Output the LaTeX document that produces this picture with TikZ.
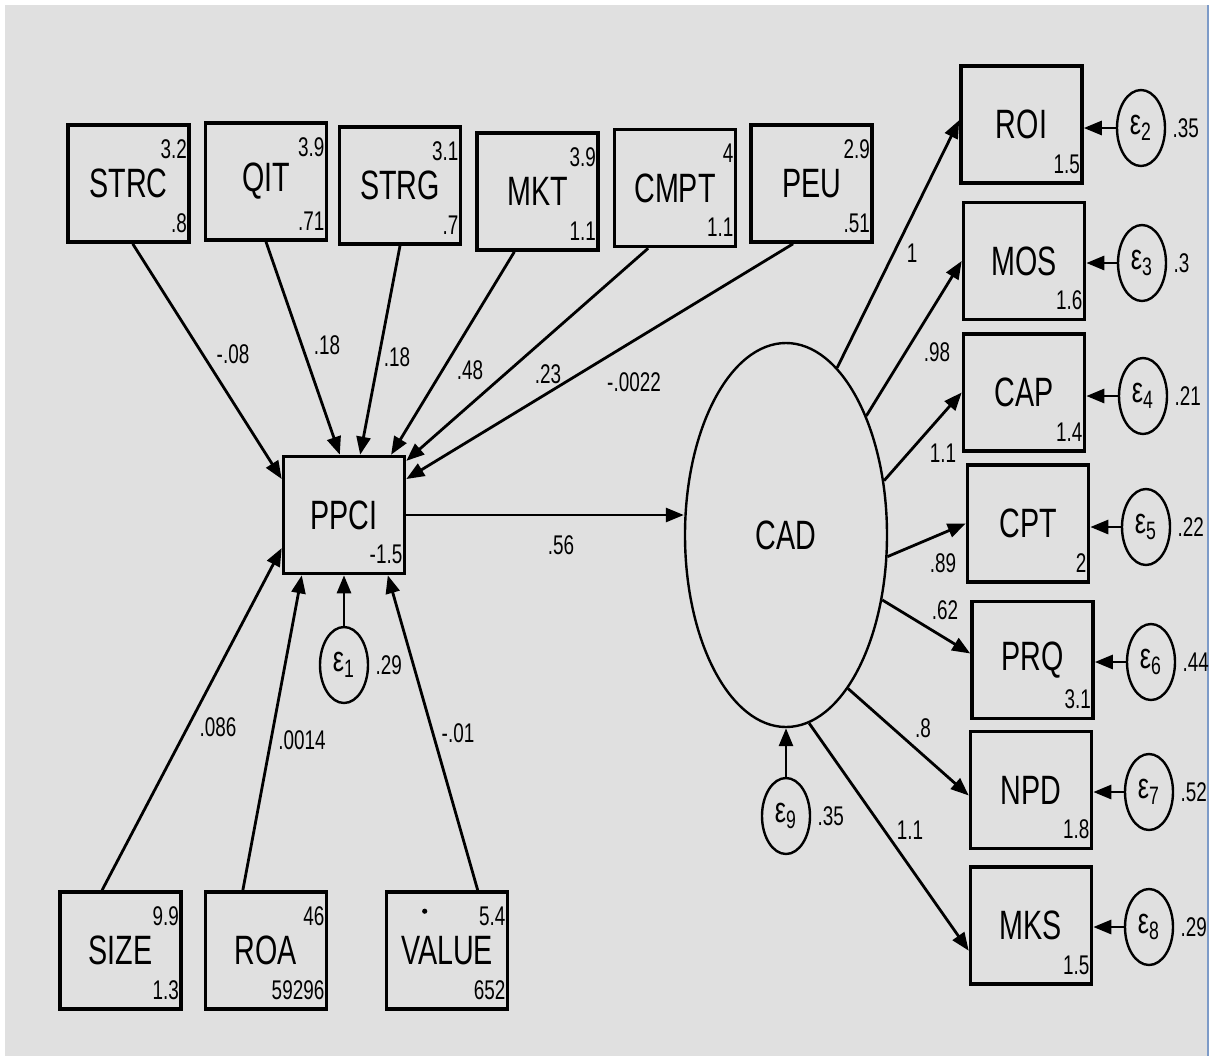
\documentclass[tikz,border=0pt]{standalone}
\usepackage{fontspec}
\setmainfont{Liberation Sans}[FakeStretch=0.7]
\usetikzlibrary{arrows.meta,positioning,shapes.geometric}

\definecolor{bggray}{RGB}{224,224,224}
\definecolor{edgeblue}{RGB}{125,155,200}

\begin{document}
\begin{tikzpicture}[x=0.5pt,y=-0.5pt,>={Triangle[length=9pt,width=7pt]},
  obs/.style={draw,line width=1.8pt,minimum width=60.5pt,minimum height=58.5pt,
    font=\fontsize{20.5}{23}\selectfont},
  lat/.style={draw,ellipse,line width=1.2pt,minimum width=101pt,minimum height=192pt,
    inner sep=0pt,font=\fontsize{20.5}{23}\selectfont},
  err/.style={draw,ellipse,line width=1.2pt,minimum width=24pt,minimum height=38pt,
    inner sep=0pt,font=\fontsize{18}{20}\selectfont},
  num/.style={font=\fontsize{13.5}{15}\selectfont,inner sep=0pt},
  hi/.style={label={[num,anchor=north east,xshift=-1.8pt,yshift=-8pt]north east:#1}},
  lo/.style={label={[num,anchor=south east,xshift=-1.8pt,yshift=5.5pt]south east:#1}},
  link/.style={line width=1.4pt,->}]
\useasboundingbox (0,0) rectangle (1211,1056);
% background
\fill[white] (0,0) rectangle (1211,1056);
\fill[bggray] (5,5) rectangle (1207,1056);
\draw[edgeblue,line width=1pt] (1208,5) -- (1208,1056);

% exogenous boxes
\node[obs,hi=3.2,lo=.8]   (strc) at (128.5,183.5) {STRC};
\node[obs,hi=3.9,lo=.71]  (qit)  at (266,181.5) {QIT};
\node[obs,hi=3.1,lo=.7]   (strg) at (400,185.5) {STRG};
\node[obs,hi=3.9,lo=1.1]  (mkt)  at (537.5,191.5) {MKT};
\node[obs,hi=4,lo=1.1]    (cmpt) at (675,188) {CMPT};
\node[obs,hi=2.9,lo=.51]  (peu)  at (811.5,183.5) {PEU};
\node[obs,lo=-1.5]        (ppci) at (344,515) {PPCI};
\node[obs,hi=9.9,lo=1.3]  (size) at (120.5,950.5) {SIZE};
\node[obs,hi=46,lo=59296] (roa)  at (266,950.5) {ROA};
\node[obs,hi=5.4,lo=652]  (value) at (447,950.5) {VALUE};
\fill ([xshift=20pt,yshift=-10.5pt]value.north west) circle (1.3pt);

% latent and indicators
\node[lat] (cad) at (786,535) {CAD};
\node[obs,lo=1.5] (roi) at (1021.5,124.5) {ROI};
\node[obs,lo=1.6] (mos) at (1024,261) {MOS};
\node[obs,lo=1.4] (cap) at (1024,392.5) {CAP};
\node[obs,lo=2]   (cpt) at (1028,523.5) {CPT};
\node[obs,lo=3.1] (prq) at (1032.5,660) {PRQ};
\node[obs,lo=1.8] (npd) at (1031,790) {NPD};
\node[obs,lo=1.5] (mks) at (1031,925.5) {MKS};

% error terms
\node[err] (e1) at (344,665) {ε\textsubscript{1}};
\node[err] (e9) at (786,816) {ε\textsubscript{9}};
\node[err] (e2) at (1141,128) {ε\textsubscript{2}};
\node[err] (e3) at (1142,263) {ε\textsubscript{3}};
\node[err] (e4) at (1143,396) {ε\textsubscript{4}};
\node[err] (e5) at (1146,527) {ε\textsubscript{5}};
\node[err] (e6) at (1151,662) {ε\textsubscript{6}};
\node[err] (e7) at (1149,792) {ε\textsubscript{7}};
\node[err] (e8) at (1149,927) {ε\textsubscript{8}};
\node[num,right=3pt of e1] (v1) {.29};
\node[num,right=3pt of e9] (v9) {.35};
\node[num,right=3pt of e2] (v2) {.35};
\node[num,right=3pt of e3] (v3) {.3};
\node[num,right=3pt of e4] (v4) {.21};
\node[num,right=3pt of e5] (v5) {.22};
\node[num,right=3pt of e6] (v6) {.44};
\node[num,right=3pt of e7] (v7) {.52};
\node[num,right=3pt of e8] (v8) {.29};

% paths into PPCI
\draw[link] (strc.274) -- (ppci.150);
\draw[link] (qit.south) -- (ppci.94);
\draw[link] (strg.south) -- (ppci.75);
\draw[link] (mkt.249) -- (ppci.52);
\draw[link] (cmpt.246) -- (ppci.41);
\draw[link] (peu.253) -- (ppci.30);
\draw[link] (size.107) -- (ppci.208);
\draw[link] (roa.111) -- (ppci.235);
\draw[link] (value.63) -- (ppci.306);
\draw[link] (e1) -- (ppci);
\draw[link] (ppci.east) -- (ppci.east -| cad.west);

% loadings
\draw[link] (cad.73) -- (roi.176);
\draw[link] (cad.56) -- (mos.west);
\draw[link] (cad.29) -- (cap.west);
\draw[link] (cad.-12) -- (cpt.west);
\draw[link] (cad.-34) -- (prq.174);
\draw[link] (cad.-68) -- (npd.185);
\draw[link] (cad.-83) -- (mks.202);
\draw[link] (e9) -- (cad);
\draw[link] (e2.west) -- (e2.west -| roi.east);
\draw[link] (e3.west) -- (e3.west -| mos.east);
\draw[link] (e4.west) -- (e4.west -| cap.east);
\draw[link] (e5.west) -- (e5.west -| cpt.east);
\draw[link] (e6.west) -- (e6.west -| prq.east);
\draw[link] (e7.west) -- (e7.west -| npd.east);
\draw[link] (e8.west) -- (e8.west -| mks.east);

% coefficients
\node[num] (c1) at (233,354) {-.08};
\node[num] (c2) at (327,345) {.18};
\node[num] (c3) at (397,357) {.18};
\node[num] (c4) at (470,370) {.48};
\node[num] (c5) at (548,374) {.23};
\node[num] (c6) at (634,382) {-.0022};
\node[num] (c7) at (218,727) {.086};
\node[num] (c8) at (302,740) {.0014};
\node[num] (c9) at (458,733) {-.01};
\node[num] (c10) at (561,545) {.56};
\node[num] (c11) at (912,253) {1};
\node[num] (c12) at (937,352) {.98};
\node[num] (c13) at (943,453) {1.1};
\node[num] (c14) at (943,563) {.89};
\node[num] (c15) at (945,610) {.62};
\node[num] (c16) at (923,728) {.8};
\node[num] (c17) at (910,830) {1.1};
\end{tikzpicture}
\end{document}
